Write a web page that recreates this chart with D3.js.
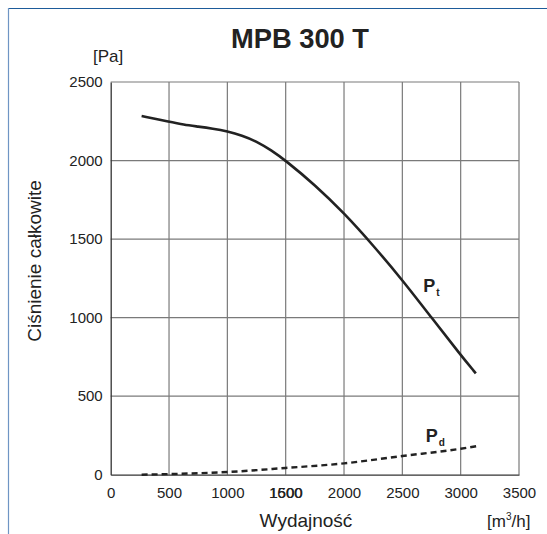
<!DOCTYPE html>
<html>
<head>
<meta charset="utf-8">
<script src="https://cdn.jsdelivr.net/npm/d3@7"></script>
<style>
html,body{margin:0;padding:0;background:#fff;}
svg{display:block;}
text{font-family:"Liberation Sans",Arial,sans-serif;fill:#222;}
</style>
</head>
<body>
<svg id="chart" width="547" height="534"></svg>
<script>
// ---- data ----
const flow = [265, 500, 625, 750, 875, 1000, 1125, 1250, 1375, 1500, 1750, 2000, 2250, 2500, 2750, 3000, 3130];
const totalPressure = [2283, 2247, 2228, 2216, 2203, 2186, 2160, 2122, 2066, 2000, 1845, 1666, 1460, 1240, 1000, 762, 645];
const flowPd = [265, 500, 1000, 1500, 2000, 2500, 3000, 3146];
const dynamicPressure = [0, 4, 17, 43, 72, 119, 165, 183];
const xTicks = [0, 500, 1000, 1500, 2000, 2500, 3000, 3500];
const xTickLabels = ["0", "500", "1000", "1500", "2000", "2500", "3000", "3500"];
const extraXLabel = {value: 1500, label: "1600"};
const yTicks = [0, 500, 1000, 1500, 2000, 2500];
const title = "MPB 300 T";
const yTitle = "Ciśnienie całkowite";
const xTitle = "Wydajność";

const svg = d3.select("#chart");
const W = 547, H = 534;
const pL = 110.7, pR = 519, pT = 82, pB = 474.7;
const FONT = '"Liberation Sans",Arial,sans-serif';

const x = d3.scaleLinear().domain([0, 3500]).range([pL, pR]);
const y = d3.scaleLinear().domain([0, 2500]).range([pB, pT]);

// frame
svg.append("line").attr("x1", 8).attr("x2", W).attr("y1", 8.5).attr("y2", 8.5)
  .attr("stroke", "#1d5b9a").attr("stroke-width", 1.2);
svg.append("line").attr("x1", 8.5).attr("x2", 8.5).attr("y1", 8).attr("y2", H)
  .attr("stroke", "#6f95c4").attr("stroke-width", 1.2);

// grid
const g = svg.append("g");
g.selectAll(".vg").data(xTicks.slice(1)).join("line")
  .attr("x1", d => x(d)).attr("x2", d => x(d)).attr("y1", pT).attr("y2", pB)
  .attr("stroke", "#7a7a7a").attr("stroke-width", 1.2);
g.selectAll(".hg").data(yTicks.slice(1)).join("line")
  .attr("x1", pL).attr("x2", pR).attr("y1", d => y(d)).attr("y2", d => y(d))
  .attr("stroke", "#7a7a7a").attr("stroke-width", 1.2);

// axes (left, bottom darker)
const xAxis = d3.axisBottom(x).tickValues(xTicks).tickSize(0).tickPadding(13)
  .tickFormat((d, i) => xTickLabels[i]);
const gx = svg.append("g").attr("transform", `translate(0,${pB})`).call(xAxis);
gx.attr("font-family", FONT);
gx.select(".domain").attr("stroke", "#333").attr("stroke-width", 1.3);
gx.selectAll("text").style("font-size", "15px").attr("fill", "#222");
// overlapping label as in the original
gx.append("text").attr("x", x(extraXLabel.value)).attr("y", 13).attr("dy", "0.71em")
  .attr("text-anchor", "middle").style("font-size", "15px").attr("fill", "#222")
  .text(extraXLabel.label);

const yAxis = d3.axisLeft(y).tickValues(yTicks).tickSize(0).tickPadding(8)
  .tickFormat(d3.format("d"));
const gy = svg.append("g").attr("transform", `translate(${pL},0)`).call(yAxis);
gy.attr("font-family", FONT);
gy.select(".domain").attr("stroke", "#333").attr("stroke-width", 1.3);
gy.selectAll("text").style("font-size", "15px").attr("fill", "#222");

// curves
const linePt = d3.line().x((d, i) => x(flow[i])).y(d => y(d)).curve(d3.curveBasis);
svg.append("path").datum(totalPressure).attr("d", linePt)
  .attr("fill", "none").attr("stroke", "#222").attr("stroke-width", 2.6);

const linePd = d3.line().x((d, i) => x(flowPd[i])).y(d => y(d)).curve(d3.curveMonotoneX);
svg.append("path").datum(dynamicPressure).attr("d", linePd)
  .attr("fill", "none").attr("stroke", "#222").attr("stroke-width", 2.4)
  .attr("stroke-dasharray", "6,4");

// curve labels
function curveLabel(px, py, sub) {
  const t = svg.append("text").attr("x", px).attr("y", py)
    .style("font-size", "18px").style("font-weight", "bold").attr("fill", "#222");
  t.append("tspan").text("P");
  t.append("tspan").attr("dy", 4).attr("dx", 1).style("font-size", "10px").text(sub);
}
curveLabel(x(2680), y(1165), "t");
curveLabel(x(2700), y(205), "d");

// title
svg.append("text").attr("x", 300).attr("y", 48).attr("text-anchor", "middle")
  .style("font-family", FONT)
  .style("font-weight", "bold").style("font-size", "28px").attr("fill", "#1d4f8c")
  .attr("textLength", 138).attr("lengthAdjust", "spacingAndGlyphs")
  .text(title);

// unit labels
svg.append("text").attr("x", 93).attr("y", 62).style("font-size", "17px").attr("fill", "#222").text("[Pa]");
const u = svg.append("text").attr("x", 487).attr("y", 527).style("font-size", "17px").attr("fill", "#222");
u.append("tspan").text("[m");
u.append("tspan").attr("dy", -7).style("font-size", "10px").text("3");
u.append("tspan").attr("dy", 7).text("/h]");

// axis titles
svg.append("text").attr("x", 306).attr("y", 527).attr("text-anchor", "middle")
  .style("font-size", "19px").attr("fill", "#222").text(xTitle);
svg.append("text").attr("transform", `translate(41,${261}) rotate(-90)`).attr("text-anchor", "middle")
  .style("font-size", "19px").attr("fill", "#222").text(yTitle);
</script>
</body>
</html>
